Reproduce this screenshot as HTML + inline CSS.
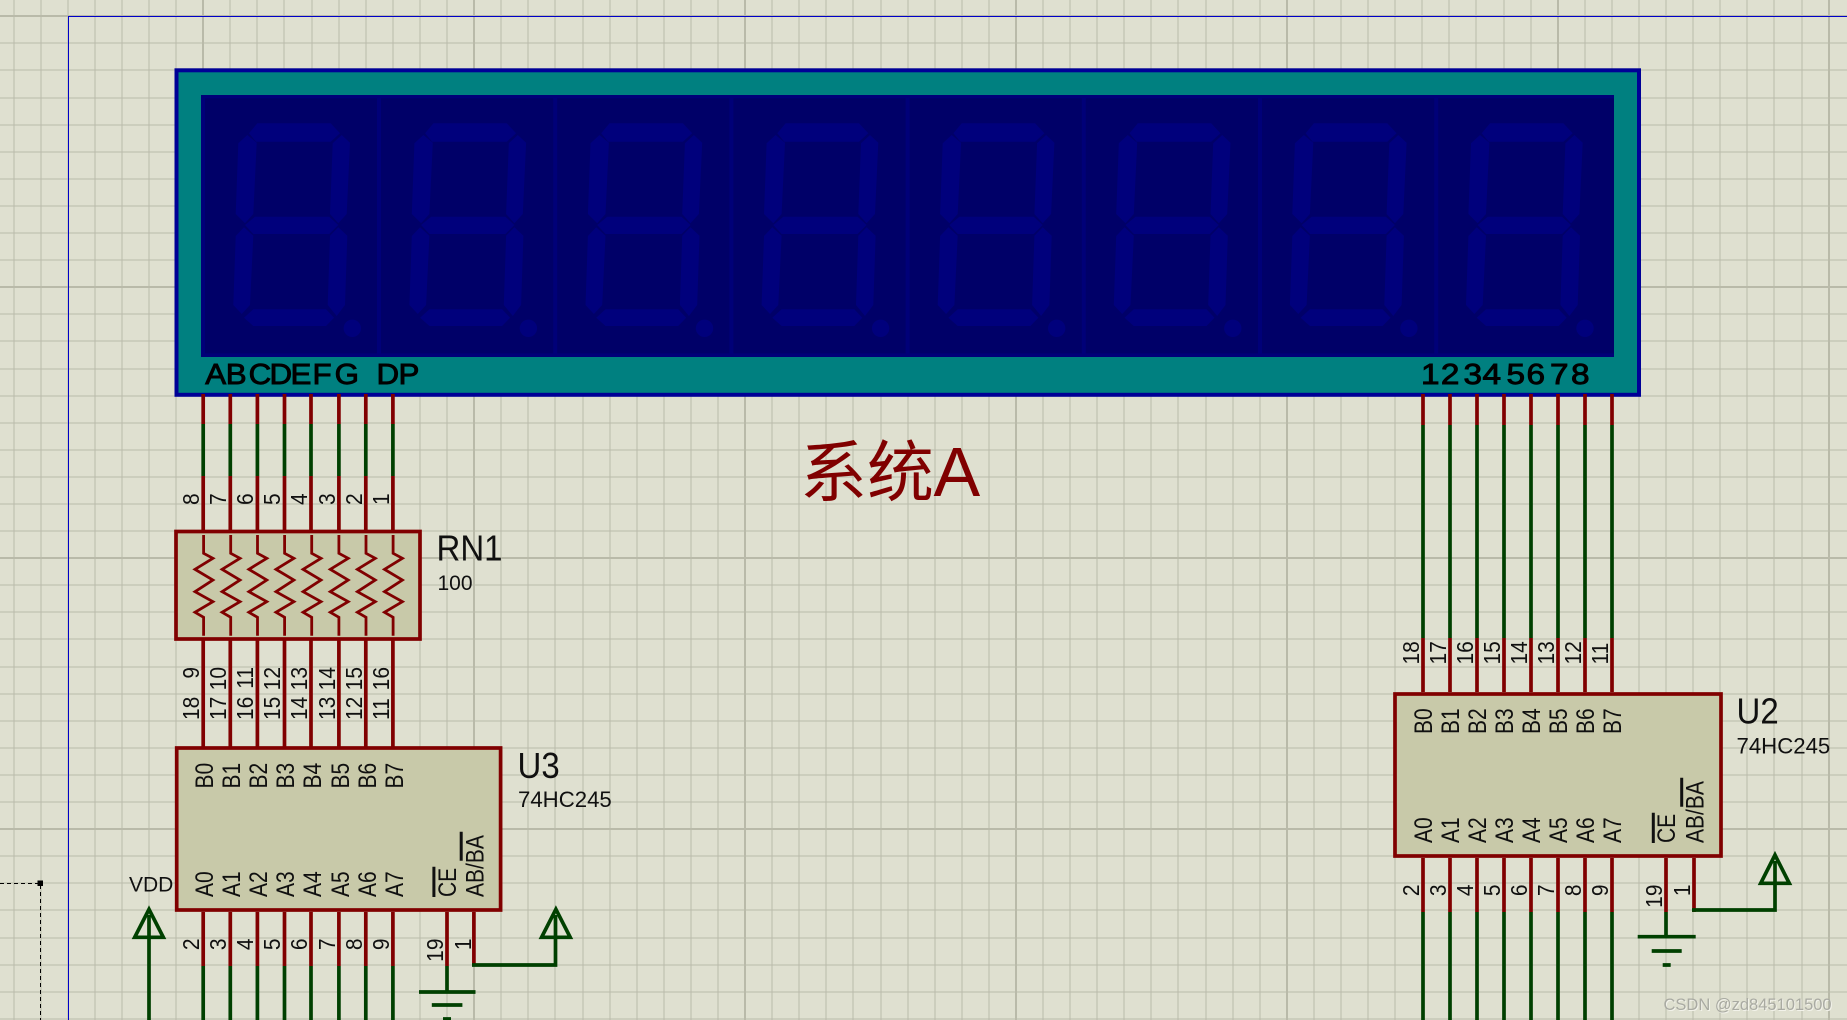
<!DOCTYPE html>
<html><head><meta charset="utf-8"><style>
html,body{margin:0;padding:0;background:#dfe0d0;width:1847px;height:1020px;overflow:hidden}
svg{display:block;font-family:"Liberation Sans","Noto Sans CJK SC",sans-serif}
.n{font-size:21px;fill:#101010}
.e{text-anchor:end}
.r{stroke:#800000;stroke-width:3.7;fill:none}
.g{stroke:#004000;stroke-width:3.7;fill:none}
.o{stroke:#101010;stroke-width:3;fill:none}
.l{font-size:29px;fill:#000;stroke:#000;stroke-width:0.9}
</style></head><body>
<svg width="1847" height="1020" viewBox="0 0 1847 1020" xmlns="http://www.w3.org/2000/svg">
<rect width="1847" height="1020" fill="#dfe0d0"/>
<path shape-rendering="crispEdges" stroke="#babbaa" stroke-width="1" fill="none" d="M14 0V1020M41 0V1020M68 0V1020M95 0V1020M122 0V1020M149 0V1020M176 0V1020M230 0V1020M257 0V1020M284 0V1020M312 0V1020M339 0V1020M366 0V1020M393 0V1020M420 0V1020M447 0V1020M501 0V1020M528 0V1020M555 0V1020M583 0V1020M610 0V1020M637 0V1020M664 0V1020M691 0V1020M718 0V1020M772 0V1020M799 0V1020M826 0V1020M853 0V1020M881 0V1020M908 0V1020M935 0V1020M962 0V1020M989 0V1020M1043 0V1020M1070 0V1020M1097 0V1020M1124 0V1020M1151 0V1020M1178 0V1020M1206 0V1020M1233 0V1020M1260 0V1020M1314 0V1020M1341 0V1020M1368 0V1020M1395 0V1020M1422 0V1020M1449 0V1020M1476 0V1020M1504 0V1020M1531 0V1020M1585 0V1020M1612 0V1020M1639 0V1020M1666 0V1020M1693 0V1020M1720 0V1020M1747 0V1020M1774 0V1020M1802 0V1020M0 43H1847M0 70H1847M0 98H1847M0 125H1847M0 152H1847M0 179H1847M0 206H1847M0 233H1847M0 260H1847M0 314H1847M0 341H1847M0 369H1847M0 396H1847M0 423H1847M0 450H1847M0 477H1847M0 504H1847M0 531H1847M0 585H1847M0 612H1847M0 639H1847M0 667H1847M0 694H1847M0 721H1847M0 748H1847M0 775H1847M0 802H1847M0 856H1847M0 883H1847M0 910H1847M0 938H1847M0 965H1847M0 992H1847M0 1019H1847"/>
<path shape-rendering="crispEdges" stroke="#b9baa9" stroke-width="2" fill="none" d="M203 0V1020M474 0V1020M745 0V1020M1016 0V1020M1287 0V1020M1558 0V1020M1829 0V1020M0 16H1847M0 287H1847M0 558H1847M0 829H1847"/>
<path shape-rendering="crispEdges" stroke="#0000c8" stroke-width="1" fill="none" d="M68.5 1020V16.5H1847"/>
<!-- dashed marker -->
<path stroke="#000" stroke-width="1" stroke-dasharray="4 3" fill="none" shape-rendering="crispEdges" d="M0 883.5H40.5V1020"/>
<rect x="37.5" y="880.5" width="5.5" height="5.5" fill="#000"/>
<!-- LCD -->
<rect x="176.5" y="70.3" width="1462.5" height="324.5" fill="#008080" stroke="#000096" stroke-width="4"/>
<rect x="201" y="95" width="1413" height="262" fill="#000078"/>
<rect x="205" y="98.3" width="1409" height="255" fill="#000068"/>
<defs>
<g id="dg" fill="#00007c">
<polygon points="249,133.3 257.3,123.3 330.7,123.3 340,133.3 330.7,141.7 256,141.7"/>
<polygon points="341.7,135 350,142.7 346.7,214 338.3,223.3 330,214 332.7,143.3"/>
<polygon points="247.3,135 256.7,142.7 253.3,214 245,223.3 235.7,214 238.3,143.3"/>
<polygon points="245,225 255,216.7 329.3,216.7 338.3,225 329.3,234 253.3,234"/>
<polygon points="244,227.3 253.3,235.7 250,305 241.7,314 233.3,305 235.7,236"/>
<polygon points="338.3,227.3 347.3,235.7 345,305 336.7,316 327.7,305 330,235.7"/>
<polygon points="244,317.7 253.3,309.3 326,309.3 334,317.7 326,326 253.3,326"/>
<circle cx="352.3" cy="328.3" r="8.7"/>
</g>
</defs>
<use href="#dg"/>
<use href="#dg" x="176.1"/>
<use href="#dg" x="352.2"/>
<use href="#dg" x="528.3"/>
<use href="#dg" x="704.4"/>
<use href="#dg" x="880.5"/>
<use href="#dg" x="1056.6"/>
<use href="#dg" x="1232.7"/>
<path stroke="#000078" stroke-width="4" fill="none" d="M379 98V357M555.2 98V357M731.4 98V357M907.6 98V357M1083.8 98V357M1260 98V357M1436.2 98V357"/>
<text class="l" transform="scale(1.08,1)" y="384" x="190.1 209.1 230.2 249.5 269 289.4 309.8 348.6 369">ABCDEFGDP</text>
<text class="l" transform="scale(1.15,1)" y="384" x="1235.7 1253 1272.6 1289.1 1310 1327.4 1347.8 1366.1">12345678</text>
<!-- top wires left -->
<path class="r" d="M203.2 394V424M230.3 394V424M257.4 394V424M284.5 394V424M311 394V424M338.9 394V424M365.8 394V424M392.9 394V424M203.2 476V530M230.3 476V530M257.4 476V530M284.5 476V530M311 476V530M338.9 476V530M365.8 476V530M392.9 476V530"/>
<path class="g" d="M203.2 424V476M230.3 424V476M257.4 424V476M284.5 424V476M311 424V476M338.9 424V476M365.8 424V476M392.9 424V476"/>
<!-- RN1 -->
<rect x="176" y="531.5" width="244" height="107.5" fill="#c8c9a9" stroke="#800000" stroke-width="3.7"/>
<defs><polyline id="rz" fill="none" stroke="#800000" stroke-width="2.8" points="0,535 0,553.3 9.3,558.3 -8.6,569.3 9.3,580 -8.6,591.7 9.3,601.7 -8.6,612.3 0,617.3 0,635.7"/></defs>
<use href="#rz" x="203.6"/><use href="#rz" x="230.7"/><use href="#rz" x="257.5"/><use href="#rz" x="284.6"/><use href="#rz" x="311.7"/><use href="#rz" x="338.9"/><use href="#rz" x="366"/><use href="#rz" x="393.1"/>
<path class="r" d="M203.2 640V748M230.3 640V748M257.4 640V748M284.5 640V748M311 640V748M338.9 640V748M365.8 640V748M392.9 640V748"/>
<text transform="translate(436.5,560.7) scale(1,1.1)" font-size="33" fill="#101010">RN1</text>
<text x="437.5" y="590" font-size="21" fill="#101010">100</text>
<!-- U3 -->
<rect x="176.7" y="748" width="323.9" height="162" fill="#c8c9a9" stroke="#800000" stroke-width="3.7"/>
<path class="r" d="M203.2 912V966M230.3 912V966M257.4 912V966M284.5 912V966M311 912V966M338.9 912V966M365.8 912V966M392.9 912V966M447 912V966M473.9 912V966"/>
<path class="g" d="M203.2 966V1020M230.3 966V1020M257.4 966V1020M284.5 966V1020M311 966V1020M338.9 966V1020M365.8 966V1020M392.9 966V1020M447 966V992M419 992H475.5M431.8 1005H462.4M443 1019H451"/>
<path class="g" d="M472 965H555.5V915M541.6 937.3H570.2L555.9 909.3Z"/>
<path class="g" d="M149 1020V915M134.7 937.3H163.3L149 909.3Z"/>
<text x="129" y="891.7" font-size="21" fill="#101010">VDD</text>
<text transform="translate(517.5,778) scale(1,1.1)" font-size="33" fill="#101010">U3</text>
<text x="518" y="807" font-size="22.2" fill="#101010">74HC245</text>
<!-- U2 -->
<path class="r" d="M1423 394V425M1450 394V425M1477 394V425M1504 394V425M1531 394V425M1558 394V425M1585 394V425M1612 394V425M1423 638V692M1450 638V692M1477 638V692M1504 638V692M1531 638V692M1558 638V692M1585 638V692M1612 638V692"/>
<path class="g" d="M1423 425V638M1450 425V638M1477 425V638M1504 425V638M1531 425V638M1558 425V638M1585 425V638M1612 425V638"/>
<rect x="1395" y="694" width="326" height="162" fill="#c8c9a9" stroke="#800000" stroke-width="3.7"/>
<path class="r" d="M1423 858V912M1450 858V912M1477 858V912M1504 858V912M1531 858V912M1558 858V912M1585 858V912M1612 858V912M1666 858V912M1694 858V912"/>
<path class="g" d="M1423 912V1020M1450 912V1020M1477 912V1020M1504 912V1020M1531 912V1020M1558 912V1020M1585 912V1020M1612 912V1020M1666 912V937M1637.7 936.7H1695.7M1651.7 951H1681.7M1662.7 965H1670.7"/>
<path class="g" d="M1692 910H1775V861M1760.7 883.3H1789.3L1775 855Z"/>
<text transform="translate(1736.5,723.3) scale(1,1.1)" font-size="33" fill="#101010">U2</text>
<text x="1736.5" y="753.3" font-size="22.2" fill="#101010">74HC245</text>
<!-- RN1 upper numbers -->
<g class="n">
<text transform="translate(199,505) rotate(-90) scale(1,1.1)">8</text>
<text transform="translate(226,505) rotate(-90) scale(1,1.1)">7</text>
<text transform="translate(253,505) rotate(-90) scale(1,1.1)">6</text>
<text transform="translate(280,505) rotate(-90) scale(1,1.1)">5</text>
<text transform="translate(307,505) rotate(-90) scale(1,1.1)">4</text>
<text transform="translate(335,505) rotate(-90) scale(1,1.1)">3</text>
<text transform="translate(362,505) rotate(-90) scale(1,1.1)">2</text>
<text transform="translate(389,505) rotate(-90) scale(1,1.1)">1</text>
<!-- RN1 lower -->
<text class="e" transform="translate(199,667) rotate(-90) scale(1,1.1)">9</text>
<text class="e" transform="translate(226,667) rotate(-90) scale(1,1.1)">10</text>
<text class="e" transform="translate(253,667) rotate(-90) scale(1,1.1)">11</text>
<text class="e" transform="translate(280,667) rotate(-90) scale(1,1.1)">12</text>
<text class="e" transform="translate(307,667) rotate(-90) scale(1,1.1)">13</text>
<text class="e" transform="translate(335,667) rotate(-90) scale(1,1.1)">14</text>
<text class="e" transform="translate(362,667) rotate(-90) scale(1,1.1)">15</text>
<text class="e" transform="translate(389,667) rotate(-90) scale(1,1.1)">16</text>
<!-- U3 top numbers -->
<text transform="translate(199,720) rotate(-90) scale(1,1.1)">18</text>
<text transform="translate(226,720) rotate(-90) scale(1,1.1)">17</text>
<text transform="translate(253,720) rotate(-90) scale(1,1.1)">16</text>
<text transform="translate(280,720) rotate(-90) scale(1,1.1)">15</text>
<text transform="translate(307,720) rotate(-90) scale(1,1.1)">14</text>
<text transform="translate(335,720) rotate(-90) scale(1,1.1)">13</text>
<text transform="translate(362,720) rotate(-90) scale(1,1.1)">12</text>
<text transform="translate(389,720) rotate(-90) scale(1,1.1)">11</text>
<!-- U3 bottom numbers -->
<text class="e" transform="translate(199,938.5) rotate(-90) scale(1,1.1)">2</text>
<text class="e" transform="translate(226,938.5) rotate(-90) scale(1,1.1)">3</text>
<text class="e" transform="translate(253,938.5) rotate(-90) scale(1,1.1)">4</text>
<text class="e" transform="translate(280,938.5) rotate(-90) scale(1,1.1)">5</text>
<text class="e" transform="translate(307,938.5) rotate(-90) scale(1,1.1)">6</text>
<text class="e" transform="translate(335,938.5) rotate(-90) scale(1,1.1)">7</text>
<text class="e" transform="translate(362,938.5) rotate(-90) scale(1,1.1)">8</text>
<text class="e" transform="translate(389,938.5) rotate(-90) scale(1,1.1)">9</text>
<text class="e" transform="translate(443,938.5) rotate(-90) scale(1,1.1)">19</text>
<text class="e" transform="translate(471,938.5) rotate(-90) scale(1,1.1)">1</text>
<!-- U3 pin names -->
<text transform="translate(213,788.5) rotate(-90) scale(1,1.18)">B0</text>
<text transform="translate(240,788.5) rotate(-90) scale(1,1.18)">B1</text>
<text transform="translate(267,788.5) rotate(-90) scale(1,1.18)">B2</text>
<text transform="translate(294,788.5) rotate(-90) scale(1,1.18)">B3</text>
<text transform="translate(321,788.5) rotate(-90) scale(1,1.18)">B4</text>
<text transform="translate(349,788.5) rotate(-90) scale(1,1.18)">B5</text>
<text transform="translate(376,788.5) rotate(-90) scale(1,1.18)">B6</text>
<text transform="translate(403,788.5) rotate(-90) scale(1,1.18)">B7</text>
<text transform="translate(213,897) rotate(-90) scale(1,1.18)">A0</text>
<text transform="translate(240,897) rotate(-90) scale(1,1.18)">A1</text>
<text transform="translate(267,897) rotate(-90) scale(1,1.18)">A2</text>
<text transform="translate(294,897) rotate(-90) scale(1,1.18)">A3</text>
<text transform="translate(321,897) rotate(-90) scale(1,1.18)">A4</text>
<text transform="translate(349,897) rotate(-90) scale(1,1.18)">A5</text>
<text transform="translate(376,897) rotate(-90) scale(1,1.18)">A6</text>
<text transform="translate(403,897) rotate(-90) scale(1,1.18)">A7</text>
<text transform="translate(456,897) rotate(-90) scale(1,1.18)">CE</text>
<text transform="translate(483.7,897) rotate(-90) scale(1,1.18)">AB/BA</text>
<!-- U2 top numbers -->
<text transform="translate(1419,664.5) rotate(-90) scale(1,1.1)">18</text>
<text transform="translate(1446,664.5) rotate(-90) scale(1,1.1)">17</text>
<text transform="translate(1473,664.5) rotate(-90) scale(1,1.1)">16</text>
<text transform="translate(1500,664.5) rotate(-90) scale(1,1.1)">15</text>
<text transform="translate(1527,664.5) rotate(-90) scale(1,1.1)">14</text>
<text transform="translate(1554,664.5) rotate(-90) scale(1,1.1)">13</text>
<text transform="translate(1581,664.5) rotate(-90) scale(1,1.1)">12</text>
<text transform="translate(1608,664.5) rotate(-90) scale(1,1.1)">11</text>
<!-- U2 bottom numbers -->
<text class="e" transform="translate(1419,884.5) rotate(-90) scale(1,1.1)">2</text>
<text class="e" transform="translate(1446,884.5) rotate(-90) scale(1,1.1)">3</text>
<text class="e" transform="translate(1473,884.5) rotate(-90) scale(1,1.1)">4</text>
<text class="e" transform="translate(1500,884.5) rotate(-90) scale(1,1.1)">5</text>
<text class="e" transform="translate(1527,884.5) rotate(-90) scale(1,1.1)">6</text>
<text class="e" transform="translate(1554,884.5) rotate(-90) scale(1,1.1)">7</text>
<text class="e" transform="translate(1581,884.5) rotate(-90) scale(1,1.1)">8</text>
<text class="e" transform="translate(1608,884.5) rotate(-90) scale(1,1.1)">9</text>
<text class="e" transform="translate(1662,884.5) rotate(-90) scale(1,1.1)">19</text>
<text class="e" transform="translate(1690,884.5) rotate(-90) scale(1,1.1)">1</text>
<!-- U2 pin names -->
<text transform="translate(1432,734) rotate(-90) scale(1,1.18)">B0</text>
<text transform="translate(1459,734) rotate(-90) scale(1,1.18)">B1</text>
<text transform="translate(1486,734) rotate(-90) scale(1,1.18)">B2</text>
<text transform="translate(1513,734) rotate(-90) scale(1,1.18)">B3</text>
<text transform="translate(1540,734) rotate(-90) scale(1,1.18)">B4</text>
<text transform="translate(1567,734) rotate(-90) scale(1,1.18)">B5</text>
<text transform="translate(1594,734) rotate(-90) scale(1,1.18)">B6</text>
<text transform="translate(1621,734) rotate(-90) scale(1,1.18)">B7</text>
<text transform="translate(1432,843) rotate(-90) scale(1,1.18)">A0</text>
<text transform="translate(1459,843) rotate(-90) scale(1,1.18)">A1</text>
<text transform="translate(1486,843) rotate(-90) scale(1,1.18)">A2</text>
<text transform="translate(1513,843) rotate(-90) scale(1,1.18)">A3</text>
<text transform="translate(1540,843) rotate(-90) scale(1,1.18)">A4</text>
<text transform="translate(1567,843) rotate(-90) scale(1,1.18)">A5</text>
<text transform="translate(1594,843) rotate(-90) scale(1,1.18)">A6</text>
<text transform="translate(1621,843) rotate(-90) scale(1,1.18)">A7</text>
<text transform="translate(1675,843) rotate(-90) scale(1,1.18)">CE</text>
<text transform="translate(1703.3,843) rotate(-90) scale(1,1.18)">AB/BA</text>
</g>
<path class="o" d="M433.9 897V866.7M461.2 860.7V831.7M1653.3 843V812.7M1681.7 806.7V777.7"/>
<!-- title -->
<text x="800" y="496" font-size="67" fill="#800000">系统<tspan font-size="70" x="933.5">A</tspan></text>
<!-- watermark -->
<text x="1664.5" y="1011" font-size="16.5" fill="#f2f2ea">CSDN @zd845101500</text>
<text x="1663.5" y="1010" font-size="16.5" fill="#a9aaa2">CSDN @zd845101500</text>
</svg>
</body></html>
